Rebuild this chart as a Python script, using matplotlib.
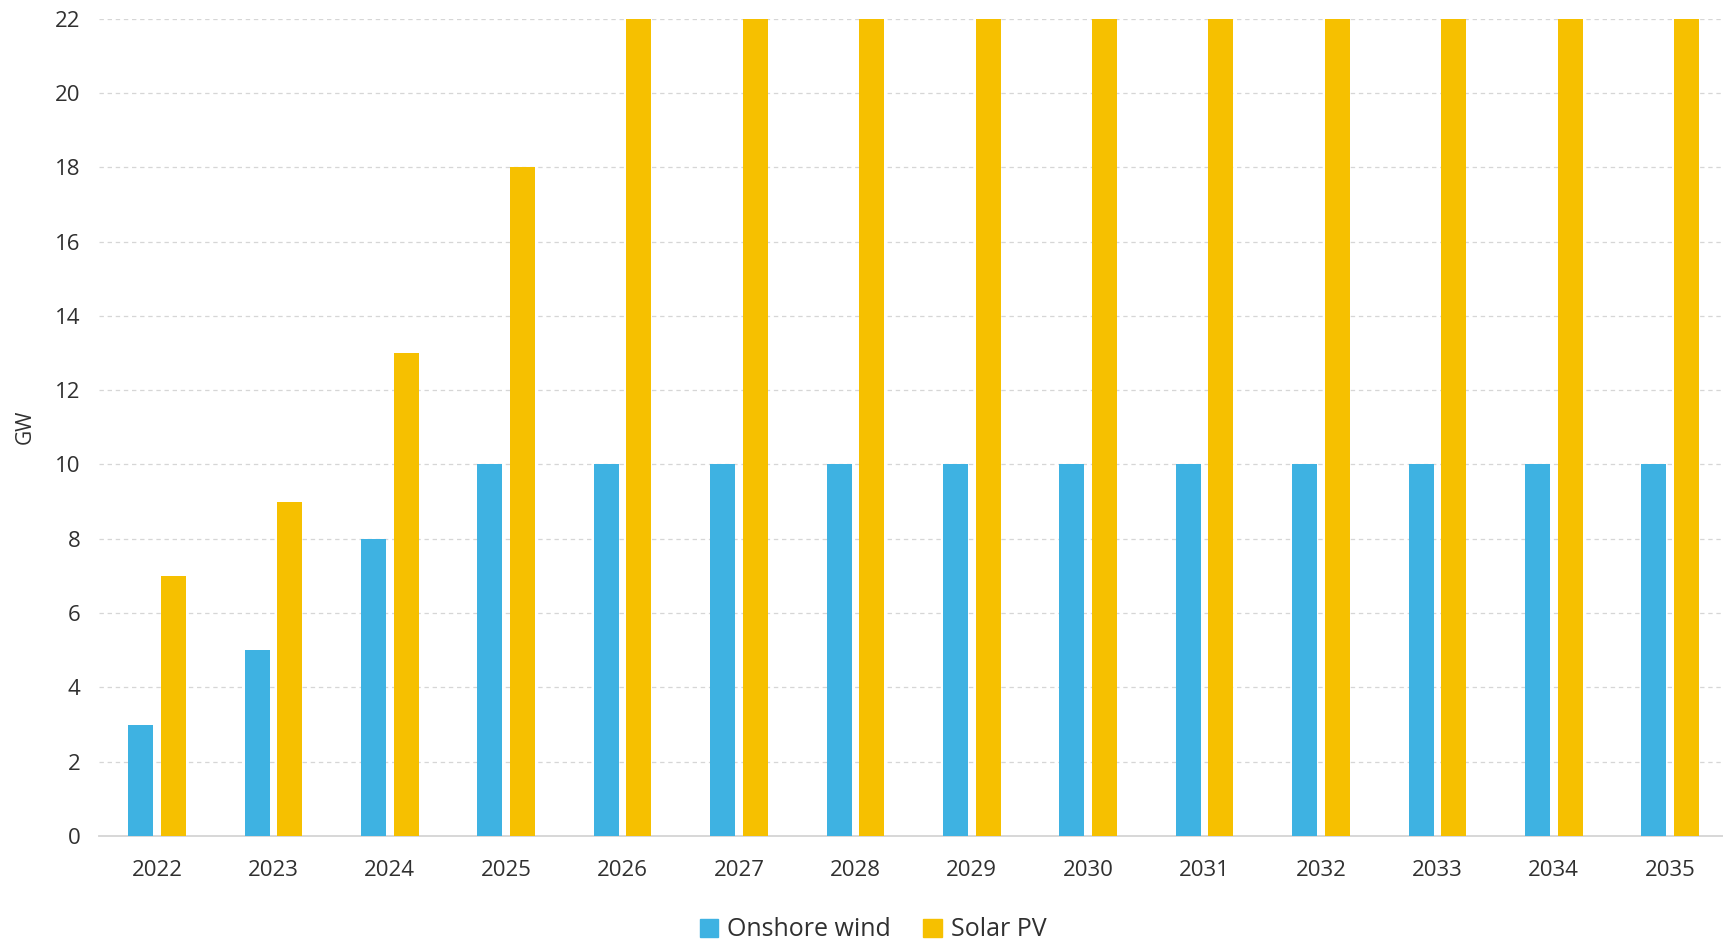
"""
Annual capacity additions by technology, grouped bar chart.
"""
import numpy as np
import matplotlib.pyplot as plt
from matplotlib.patches import Patch

years = ['2022', '2023', '2024', '2025', '2026', '2027', '2028',
         '2029', '2030', '2031', '2032', '2033', '2034', '2035']
onshore_wind = [3, 5, 8, 10, 10, 10, 10, 10, 10, 10, 10, 10, 10, 10]
solar_pv = [7, 9, 13, 18, 22, 22, 22, 22, 22, 22, 22, 22, 22, 22]
yticks = [0, 2, 4, 6, 8, 10, 12, 14, 16, 18, 20, 22]

WIND_COLOR = '#3EB2E2'
SOLAR_COLOR = '#F6C000'
FONT = ['Open Sans', 'DejaVu Sans']

plt.rcParams['font.family'] = FONT

W, H = 1724, 944
fig = plt.figure(figsize=(W / 100, H / 100), dpi=100)
# axes run slightly past the right edge of the canvas
left, right, top, bottom = 98.8, 1728.4, 18.7, 836.0
ax = fig.add_axes([left / W, 1 - bottom / H, (right - left) / W, (bottom - top) / H])

x = np.arange(len(years))
width = 0.215
offset = 0.14
ax.bar(x - offset, onshore_wind, width, color=WIND_COLOR, zorder=3, clip_on=False)
ax.bar(x + offset, solar_pv, width, color=SOLAR_COLOR, zorder=3, clip_on=False)

ax.set_xlim(-0.5, len(years) - 0.5)
ax.set_ylim(0, 22)
ax.set_xticks(x)
ax.set_xticklabels(years, fontsize=16, color='#303030')
ax.set_yticks(yticks)
ax.set_yticklabels([str(v) for v in yticks], fontsize=16, color='#303030')
ax.tick_params(axis='x', length=0, pad=17)
ax.tick_params(axis='y', length=0, pad=13)

for v in yticks[1:]:
    ax.axhline(v, color='#d6d6d6', lw=0.9, ls=(0, (3.5, 3)), zorder=1)

for s in ['top', 'right', 'left']:
    ax.spines[s].set_visible(False)
ax.spines['bottom'].set_color('#d4d4d4')
ax.spines['bottom'].set_linewidth(1.3)

fig.text(25 / W, 1 - 427 / H, 'GW', rotation=90, ha='center', va='center',
         fontsize=15, color='#303030')

handles = [Patch(color=WIND_COLOR, label='Onshore wind'),
           Patch(color=SOLAR_COLOR, label='Solar PV')]
fig.legend(handles=handles, loc='center', bbox_to_anchor=(873 / W, 1 - 930 / H),
           ncol=2, frameon=False, fontsize=18, handlelength=0.75, handleheight=0.75,
           handletextpad=0.35, columnspacing=1.3, labelcolor='#303030')

fig.savefig('out.png', dpi=100, facecolor='white')
